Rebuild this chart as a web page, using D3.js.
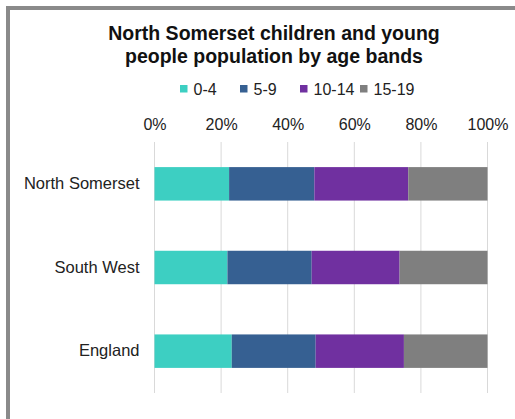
<!DOCTYPE html>
<html>
<head>
<meta charset="utf-8">
<script src="https://cdn.jsdelivr.net/npm/d3@7/dist/d3.min.js"></script>
<style>
	body { margin: 0; background: #fff; }
	svg { display: block; font-family: "Liberation Sans", Arial, sans-serif; }
</style>
</head>
<body>
<div id="chart"></div>
<script>
// chart data
var categories = ['North Somerset', 'South West', 'England'];
var ageBands = ['0-4', '5-9', '10-14', '15-19'];
var band0to4 = [22.4, 21.9, 23.2];
var band5to9 = [25.6, 25.3, 25.2];
var band10to14 = [28.2, 26.4, 26.5];
var band15to19 = [23.8, 26.4, 25.1];
var tickValues = [0, 20, 40, 60, 80, 100];
var bandColors = ['#3dcfc2', '#366092', '#7030a0', '#7f7f7f'];

var width = 515, height = 419;
var margin = {top: 142, right: 27, bottom: 26, left: 154.5};

var svg = d3.select('#chart').append('svg')
	.attr('width', width)
	.attr('height', height);

// outer frame
svg.append('rect')
	.attr('x', 8).attr('y', 8)
	.attr('width', width + 20).attr('height', height + 20)
	.attr('fill', 'none')
	.attr('stroke', '#8a8a8a')
	.attr('stroke-width', 4);

// title
var title = svg.append('text')
	.attr('text-anchor', 'middle')
	.attr('font-weight', 'bold')
	.attr('font-size', 19.5)
	.attr('fill', '#111');
title.append('tspan').attr('x', 274).attr('y', 40).text('North Somerset children and young');
title.append('tspan').attr('x', 274).attr('y', 63).text('people population by age bands');

// build stacked rows
var rows = categories.map(function(c, i) {
	return {cat: c, '0-4': band0to4[i], '5-9': band5to9[i], '10-14': band10to14[i], '15-19': band15to19[i]};
});
var stacked = d3.stack().keys(ageBands)(rows);

var x = d3.scaleLinear()
	.domain([0, 100])
	.range([margin.left, width - margin.right - 0.5]);

var y = d3.scaleBand()
	.domain(categories)
	.range([margin.top, height - margin.bottom])
	.paddingInner(0.6)
	.paddingOuter(0.3);

// gridlines
svg.append('g')
	.selectAll('line')
	.data(tickValues)
	.enter()
	.append('line')
	.attr('x1', d => x(d)).attr('x2', d => x(d))
	.attr('y1', margin.top).attr('y2', height - margin.bottom)
	.attr('stroke', '#d9d9d9')
	.attr('stroke-width', 1);

// top axis labels
var xAxis = g => g
	.attr('transform', 'translate(0,' + (margin.top - 12) + ')')
	.call(d3.axisTop(x).tickValues(tickValues).tickFormat(d => d + '%').tickSize(0).tickPadding(0))
	.call(g => g.select('.domain').remove())
	.call(g => g.selectAll('text')
		.attr('font-size', 16)
		.attr('fill', '#222')
		.attr('font-family', '"Liberation Sans", Arial, sans-serif'));
svg.append('g').call(xAxis);

// category labels
var yAxis = g => g
	.attr('transform', 'translate(' + (margin.left - 15) + ',0)')
	.call(d3.axisLeft(y).tickSize(0).tickPadding(0))
	.call(g => g.select('.domain').remove())
	.call(g => g.selectAll('text')
		.attr('font-size', 16.5)
		.attr('fill', '#222')
		.attr('font-family', '"Liberation Sans", Arial, sans-serif'));
svg.append('g').call(yAxis);

// bars
svg.append('g')
	.selectAll('g')
	.data(stacked)
	.enter()
	.append('g')
	.attr('fill', (d, i) => bandColors[i])
	.selectAll('rect')
	.data(d => d)
	.enter()
	.append('rect')
	.attr('x', d => x(d[0]))
	.attr('y', d => y(d.data.cat))
	.attr('width', d => x(d[1]) - x(d[0]))
	.attr('height', y.bandwidth());

// legend
var legend = svg.append('g')
	.selectAll('g')
	.data(ageBands)
	.enter()
	.append('g')
	.attr('transform', (d, i) => 'translate(' + (180 + i * 60) + ',89)');
legend.append('rect')
	.attr('x', 0).attr('y', -4)
	.attr('width', 7.5).attr('height', 7.5)
	.attr('fill', (d, i) => bandColors[i]);
legend.append('text')
	.attr('x', 13.5).attr('y', 0)
	.attr('dy', '0.36em')
	.attr('font-size', 16)
	.attr('fill', '#222')
	.text(d => d);
</script>
</body>
</html>
